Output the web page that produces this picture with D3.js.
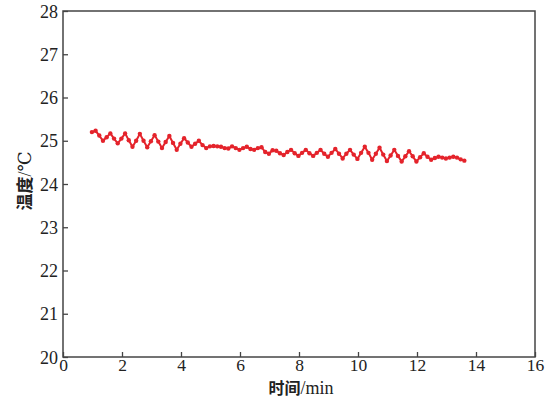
<!DOCTYPE html>
<html><head><meta charset="utf-8">
<script src="https://cdn.jsdelivr.net/npm/d3@7/dist/d3.min.js"></script>
<style>body{margin:0;background:#fff}svg{display:block}
.num{font-family:"Liberation Serif","Times New Roman","DejaVu Serif",serif}
.cjk{font-family:"Noto Sans CJK SC",sans-serif;font-weight:bold}</style>
</head><body>
<svg id="c" width="554" height="398"></svg>
<script>
const xTicks = [0, 2, 4, 6, 8, 10, 12, 14, 16];
const yTicks = [20, 21, 22, 23, 24, 25, 26, 27, 28];
const times = [0.98,
 1.105,1.23,1.355,1.48, 1.605,1.73,1.855,1.98, 2.105,2.23,2.355,2.48, 2.605,2.73,2.855,2.98,
 3.105,3.23,3.355,3.48, 3.605,3.73,3.855,3.98, 4.105,4.23,4.355,4.48, 4.605,4.73,4.855,4.98,
 5.105,5.23,5.355,5.48, 5.605,5.73,5.855,5.98, 6.105,6.23,6.355,6.48, 6.605,6.73,6.855,6.98,
 7.105,7.23,7.355,7.48, 7.605,7.73,7.855,7.98, 8.105,8.23,8.355,8.48, 8.605,8.73,8.855,8.98,
 9.105,9.23,9.355,9.48, 9.605,9.73,9.855,9.98, 10.105,10.23,10.355,10.48, 10.605,10.73,10.855,10.98,
 11.105,11.23,11.355,11.48, 11.605,11.73,11.855,11.98, 12.105,12.23,12.355,12.48, 12.605,12.73,12.855,12.98,
 13.105,13.23,13.355,13.48, 13.605];
const temps = [25.20,
 25.23,25.12,25.00,25.08, 25.17,25.05,24.94,25.05, 25.17,25.01,24.86,25.00, 25.16,25.00,24.85,24.99,
 25.13,24.98,24.83,24.97, 25.11,24.95,24.79,24.93, 25.06,24.96,24.86,24.93, 25.00,24.90,24.83,24.87,
 24.88,24.87,24.86,24.83, 24.82,24.87,24.83,24.79, 24.83,24.86,24.81,24.79, 24.83,24.85,24.74,24.70,
 24.78,24.77,24.71,24.67, 24.74,24.79,24.71,24.65, 24.72,24.79,24.71,24.65, 24.72,24.79,24.70,24.63,
 24.72,24.81,24.70,24.59, 24.70,24.79,24.68,24.58, 24.72,24.86,24.72,24.56, 24.70,24.84,24.68,24.53,
 24.66,24.79,24.65,24.52, 24.64,24.76,24.64,24.52, 24.62,24.71,24.63,24.56, 24.60,24.63,24.61,24.59,
 24.61,24.63,24.61,24.57, 24.54];

const svg = d3.select("#c");
const L = 63, R = 535, T = 11, B = 357;
const x = d3.scaleLinear().domain([0, 16]).range([L, R]);
const y = d3.scaleLinear().domain([20, 28]).range([B, T]);
const axisColor = "#444";
const red = "#e4232b";

const data = times.map((t, i) => ({t, v: temps[i]}));

svg.append("path").datum(data)
  .attr("fill", "none").attr("stroke", red).attr("stroke-width", 2)
  .attr("d", d3.line().x(d => x(d.t)).y(d => y(d.v)));
svg.append("g").selectAll("circle").data(data).join("circle")
  .attr("cx", d => x(d.t)).attr("cy", d => y(d.v)).attr("r", 2.2)
  .attr("fill", red);

const gx = svg.append("g").attr("transform", `translate(0,${B})`)
  .call(d3.axisBottom(x).tickValues(xTicks).tickSize(-5).tickPadding(2).tickFormat(d3.format("d")));
const gy = svg.append("g").attr("transform", `translate(${L},0)`)
  .call(d3.axisLeft(y).tickValues(yTicks).tickSize(-5).tickPadding(5).tickFormat(d3.format("d")));
[gx, gy].forEach(g => {
  g.attr("font-family", null).attr("font-size", null);
  g.select(".domain").remove();
  g.selectAll(".tick line").attr("stroke", axisColor).attr("stroke-width", 1.3);
  g.selectAll("text").attr("class", "num").attr("fill", "#222").attr("font-size", 18);
});
gx.selectAll("text").attr("font-size", 17.5).attr("dy", "0.71em");
gy.selectAll("text").attr("dy", "0.34em");

svg.append("rect").attr("x", L).attr("y", T).attr("width", R - L).attr("height", B - T)
  .attr("fill", "none").attr("stroke", axisColor).attr("stroke-width", 1.5);

const xt = svg.append("text").attr("x", (L + R) / 2 + 2).attr("y", 394).attr("text-anchor", "middle")
  .attr("fill", "#222").attr("font-size", 16);
xt.append("tspan").attr("class", "cjk").text("时间");
xt.append("tspan").attr("class", "num").attr("font-size", 18).text("/min");
const yt = svg.append("text").attr("transform", `translate(31,181) rotate(-90)`).attr("text-anchor", "middle")
  .attr("fill", "#222").attr("font-size", 17);
yt.append("tspan").attr("class", "cjk").text("温度");
yt.append("tspan").attr("class", "num").attr("font-size", 18).text("/℃");
</script>
</body></html>
